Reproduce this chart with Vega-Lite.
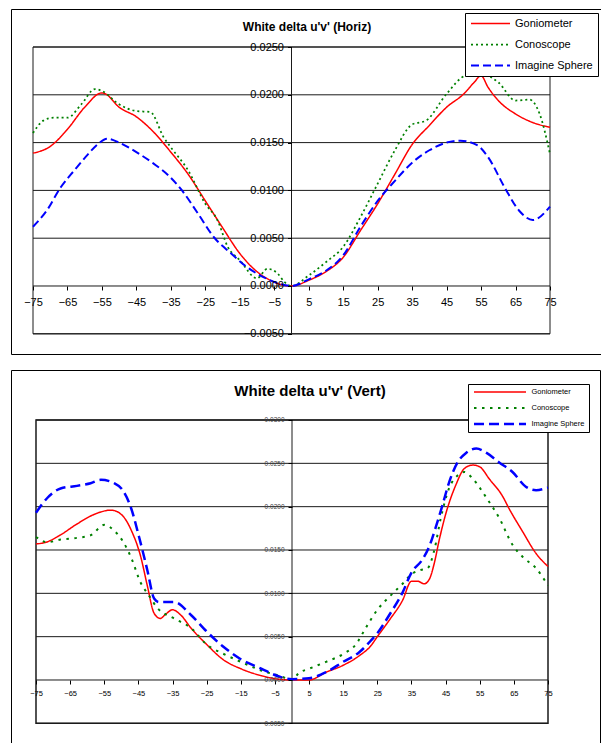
{
  "$schema": "https://vega.github.io/schema/vega-lite/v6.json",
  "background": "white",
  "padding": {"left": 10, "top": 8, "right": 0, "bottom": 0},
  "spacing": 14,
  "config": {
    "font": "Liberation Sans",
    "view": {"stroke": "#000", "strokeWidth": 1},
    "axis": {"labelOverlap": false, "labelBound": false, "labelFlush": false}
  },
  "datasets": {
    "horiz": [
      {"series": "Goniometer", "x": -75, "y": 0.0139}, {"series": "Goniometer", "x": -70, "y": 0.0146}, {"series": "Goniometer", "x": -65, "y": 0.0164}, {"series": "Goniometer", "x": -60, "y": 0.0187}, {"series": "Goniometer", "x": -55, "y": 0.0202}, {"series": "Goniometer", "x": -54, "y": 0.0201}, {"series": "Goniometer", "x": -50, "y": 0.0187}, {"series": "Goniometer", "x": -45, "y": 0.0177}, {"series": "Goniometer", "x": -40, "y": 0.0161}, {"series": "Goniometer", "x": -35, "y": 0.0140}, {"series": "Goniometer", "x": -30, "y": 0.0117}, {"series": "Goniometer", "x": -25, "y": 0.0089}, {"series": "Goniometer", "x": -20, "y": 0.0061}, {"series": "Goniometer", "x": -15, "y": 0.0034}, {"series": "Goniometer", "x": -10, "y": 0.0015}, {"series": "Goniometer", "x": -5, "y": 0.0004}, {"series": "Goniometer", "x": 0, "y": 0.0}, {"series": "Goniometer", "x": 5, "y": 0.0006}, {"series": "Goniometer", "x": 10, "y": 0.0015}, {"series": "Goniometer", "x": 15, "y": 0.0030}, {"series": "Goniometer", "x": 20, "y": 0.0058}, {"series": "Goniometer", "x": 25, "y": 0.0086}, {"series": "Goniometer", "x": 30, "y": 0.0117}, {"series": "Goniometer", "x": 35, "y": 0.0148}, {"series": "Goniometer", "x": 40, "y": 0.0168}, {"series": "Goniometer", "x": 45, "y": 0.0187}, {"series": "Goniometer", "x": 50, "y": 0.0201}, {"series": "Goniometer", "x": 53, "y": 0.0213}, {"series": "Goniometer", "x": 55, "y": 0.0220}, {"series": "Goniometer", "x": 57, "y": 0.0208}, {"series": "Goniometer", "x": 60, "y": 0.0194}, {"series": "Goniometer", "x": 65, "y": 0.0180}, {"series": "Goniometer", "x": 70, "y": 0.0171}, {"series": "Goniometer", "x": 75, "y": 0.0166},
      {"series": "Conoscope", "x": -75, "y": 0.0160}, {"series": "Conoscope", "x": -72, "y": 0.0173}, {"series": "Conoscope", "x": -69, "y": 0.0176}, {"series": "Conoscope", "x": -65, "y": 0.0176}, {"series": "Conoscope", "x": -61, "y": 0.0190}, {"series": "Conoscope", "x": -57, "y": 0.0206}, {"series": "Conoscope", "x": -55, "y": 0.0204}, {"series": "Conoscope", "x": -50, "y": 0.0190}, {"series": "Conoscope", "x": -45, "y": 0.0183}, {"series": "Conoscope", "x": -41, "y": 0.0182}, {"series": "Conoscope", "x": -37, "y": 0.0155}, {"series": "Conoscope", "x": -35, "y": 0.0145}, {"series": "Conoscope", "x": -30, "y": 0.0121}, {"series": "Conoscope", "x": -25, "y": 0.0086}, {"series": "Conoscope", "x": -21.5, "y": 0.0069}, {"series": "Conoscope", "x": -18.5, "y": 0.0041}, {"series": "Conoscope", "x": -15, "y": 0.0027}, {"series": "Conoscope", "x": -10, "y": 0.0008}, {"series": "Conoscope", "x": -7, "y": 0.0018}, {"series": "Conoscope", "x": -4, "y": 0.0013}, {"series": "Conoscope", "x": -2, "y": 0.0004}, {"series": "Conoscope", "x": 0, "y": 0.0}, {"series": "Conoscope", "x": 5, "y": 0.0011}, {"series": "Conoscope", "x": 10, "y": 0.0025}, {"series": "Conoscope", "x": 15, "y": 0.0041}, {"series": "Conoscope", "x": 20, "y": 0.0072}, {"series": "Conoscope", "x": 25, "y": 0.0107}, {"series": "Conoscope", "x": 30, "y": 0.0142}, {"series": "Conoscope", "x": 35, "y": 0.0169}, {"series": "Conoscope", "x": 39, "y": 0.0173}, {"series": "Conoscope", "x": 45, "y": 0.0201}, {"series": "Conoscope", "x": 50.5, "y": 0.0220}, {"series": "Conoscope", "x": 55, "y": 0.0222}, {"series": "Conoscope", "x": 60, "y": 0.0213}, {"series": "Conoscope", "x": 65, "y": 0.0194}, {"series": "Conoscope", "x": 69, "y": 0.0195}, {"series": "Conoscope", "x": 72, "y": 0.0180}, {"series": "Conoscope", "x": 75, "y": 0.0138},
      {"series": "Imagine Sphere", "x": -75, "y": 0.0062}, {"series": "Imagine Sphere", "x": -71, "y": 0.0079}, {"series": "Imagine Sphere", "x": -67, "y": 0.0103}, {"series": "Imagine Sphere", "x": -63, "y": 0.0121}, {"series": "Imagine Sphere", "x": -59, "y": 0.0138}, {"series": "Imagine Sphere", "x": -56, "y": 0.0149}, {"series": "Imagine Sphere", "x": -53.5, "y": 0.0154}, {"series": "Imagine Sphere", "x": -50, "y": 0.0150}, {"series": "Imagine Sphere", "x": -45, "y": 0.0140}, {"series": "Imagine Sphere", "x": -40, "y": 0.0128}, {"series": "Imagine Sphere", "x": -35.5, "y": 0.0115}, {"series": "Imagine Sphere", "x": -32, "y": 0.0101}, {"series": "Imagine Sphere", "x": -27, "y": 0.0075}, {"series": "Imagine Sphere", "x": -22.5, "y": 0.0051}, {"series": "Imagine Sphere", "x": -17.5, "y": 0.0034}, {"series": "Imagine Sphere", "x": -13, "y": 0.0020}, {"series": "Imagine Sphere", "x": -8, "y": 0.0009}, {"series": "Imagine Sphere", "x": -4, "y": 0.0003}, {"series": "Imagine Sphere", "x": 0, "y": 0.0}, {"series": "Imagine Sphere", "x": 5, "y": 0.0007}, {"series": "Imagine Sphere", "x": 10, "y": 0.0016}, {"series": "Imagine Sphere", "x": 15, "y": 0.0032}, {"series": "Imagine Sphere", "x": 20, "y": 0.0062}, {"series": "Imagine Sphere", "x": 25, "y": 0.0089}, {"series": "Imagine Sphere", "x": 30, "y": 0.0110}, {"series": "Imagine Sphere", "x": 35, "y": 0.0129}, {"series": "Imagine Sphere", "x": 40, "y": 0.0142}, {"series": "Imagine Sphere", "x": 45, "y": 0.0150}, {"series": "Imagine Sphere", "x": 49, "y": 0.0152}, {"series": "Imagine Sphere", "x": 54, "y": 0.0147}, {"series": "Imagine Sphere", "x": 57, "y": 0.0135}, {"series": "Imagine Sphere", "x": 62, "y": 0.0102}, {"series": "Imagine Sphere", "x": 66, "y": 0.0079}, {"series": "Imagine Sphere", "x": 70, "y": 0.0069}, {"series": "Imagine Sphere", "x": 75, "y": 0.0083}
    ],
    "vert": [
      {"series": "Goniometer", "x": -75, "y": 0.0157}, {"series": "Goniometer", "x": -72, "y": 0.0159}, {"series": "Goniometer", "x": -68, "y": 0.0167}, {"series": "Goniometer", "x": -63, "y": 0.0180}, {"series": "Goniometer", "x": -58, "y": 0.0191}, {"series": "Goniometer", "x": -53, "y": 0.0196}, {"series": "Goniometer", "x": -50, "y": 0.0191}, {"series": "Goniometer", "x": -47, "y": 0.0172}, {"series": "Goniometer", "x": -44.3, "y": 0.0142}, {"series": "Goniometer", "x": -42.4, "y": 0.0109}, {"series": "Goniometer", "x": -40.4, "y": 0.0077}, {"series": "Goniometer", "x": -38.6, "y": 0.0071}, {"series": "Goniometer", "x": -37, "y": 0.0076}, {"series": "Goniometer", "x": -35, "y": 0.0081}, {"series": "Goniometer", "x": -32.6, "y": 0.0075}, {"series": "Goniometer", "x": -29.6, "y": 0.0060}, {"series": "Goniometer", "x": -25, "y": 0.0041}, {"series": "Goniometer", "x": -20, "y": 0.0023}, {"series": "Goniometer", "x": -15, "y": 0.0013}, {"series": "Goniometer", "x": -9, "y": 0.0005}, {"series": "Goniometer", "x": -4, "y": 0.0001}, {"series": "Goniometer", "x": 0, "y": 0.0}, {"series": "Goniometer", "x": 5, "y": 0.0}, {"series": "Goniometer", "x": 10, "y": 0.0009}, {"series": "Goniometer", "x": 15, "y": 0.0017}, {"series": "Goniometer", "x": 19.7, "y": 0.0028}, {"series": "Goniometer", "x": 23, "y": 0.0039}, {"series": "Goniometer", "x": 25, "y": 0.0050}, {"series": "Goniometer", "x": 28.5, "y": 0.0069}, {"series": "Goniometer", "x": 32.4, "y": 0.0092}, {"series": "Goniometer", "x": 35, "y": 0.0114}, {"series": "Goniometer", "x": 36.8, "y": 0.0114}, {"series": "Goniometer", "x": 38.7, "y": 0.0111}, {"series": "Goniometer", "x": 40.2, "y": 0.0116}, {"series": "Goniometer", "x": 41.7, "y": 0.0135}, {"series": "Goniometer", "x": 43.1, "y": 0.0161}, {"series": "Goniometer", "x": 45, "y": 0.0191}, {"series": "Goniometer", "x": 48, "y": 0.0225}, {"series": "Goniometer", "x": 50.5, "y": 0.0244}, {"series": "Goniometer", "x": 53, "y": 0.0248}, {"series": "Goniometer", "x": 55, "y": 0.0246}, {"series": "Goniometer", "x": 57.8, "y": 0.0232}, {"series": "Goniometer", "x": 61.7, "y": 0.0212}, {"series": "Goniometer", "x": 63.7, "y": 0.0197}, {"series": "Goniometer", "x": 67.6, "y": 0.0171}, {"series": "Goniometer", "x": 71.5, "y": 0.0146}, {"series": "Goniometer", "x": 75, "y": 0.0131},
      {"series": "Conoscope", "x": -75, "y": 0.0165}, {"series": "Conoscope", "x": -71.7, "y": 0.0159}, {"series": "Conoscope", "x": -67.8, "y": 0.0162}, {"series": "Conoscope", "x": -63, "y": 0.0164}, {"series": "Conoscope", "x": -59, "y": 0.0167}, {"series": "Conoscope", "x": -55, "y": 0.0179}, {"series": "Conoscope", "x": -52, "y": 0.0172}, {"series": "Conoscope", "x": -49.7, "y": 0.0161}, {"series": "Conoscope", "x": -47.2, "y": 0.0142}, {"series": "Conoscope", "x": -44.3, "y": 0.0112}, {"series": "Conoscope", "x": -42, "y": 0.0098}, {"series": "Conoscope", "x": -39.4, "y": 0.0083}, {"series": "Conoscope", "x": -34.5, "y": 0.0071}, {"series": "Conoscope", "x": -29.6, "y": 0.0060}, {"series": "Conoscope", "x": -25, "y": 0.0041}, {"series": "Conoscope", "x": -20, "y": 0.0030}, {"series": "Conoscope", "x": -15, "y": 0.0021}, {"series": "Conoscope", "x": -9, "y": 0.0011}, {"series": "Conoscope", "x": -3, "y": 0.0004}, {"series": "Conoscope", "x": 0, "y": 0.0}, {"series": "Conoscope", "x": 2, "y": 0.0008}, {"series": "Conoscope", "x": 5, "y": 0.0013}, {"series": "Conoscope", "x": 10, "y": 0.0021}, {"series": "Conoscope", "x": 15, "y": 0.0030}, {"series": "Conoscope", "x": 18.7, "y": 0.0041}, {"series": "Conoscope", "x": 21.6, "y": 0.0060}, {"series": "Conoscope", "x": 25, "y": 0.0081}, {"series": "Conoscope", "x": 28.5, "y": 0.0096}, {"series": "Conoscope", "x": 32.4, "y": 0.0111}, {"series": "Conoscope", "x": 35, "y": 0.0122}, {"series": "Conoscope", "x": 37.7, "y": 0.0127}, {"series": "Conoscope", "x": 39.7, "y": 0.0129}, {"series": "Conoscope", "x": 41.7, "y": 0.0150}, {"series": "Conoscope", "x": 43.6, "y": 0.0187}, {"series": "Conoscope", "x": 46, "y": 0.0221}, {"series": "Conoscope", "x": 48.5, "y": 0.0236}, {"series": "Conoscope", "x": 50.5, "y": 0.0240}, {"series": "Conoscope", "x": 53, "y": 0.0232}, {"series": "Conoscope", "x": 57, "y": 0.0210}, {"series": "Conoscope", "x": 60.7, "y": 0.0187}, {"series": "Conoscope", "x": 64.6, "y": 0.0156}, {"series": "Conoscope", "x": 67.6, "y": 0.0142}, {"series": "Conoscope", "x": 71.5, "y": 0.0129}, {"series": "Conoscope", "x": 75, "y": 0.0109},
      {"series": "Imagine Sphere", "x": -75, "y": 0.0193}, {"series": "Imagine Sphere", "x": -71.7, "y": 0.0210}, {"series": "Imagine Sphere", "x": -67.8, "y": 0.0221}, {"series": "Imagine Sphere", "x": -63, "y": 0.0224}, {"series": "Imagine Sphere", "x": -59, "y": 0.0227}, {"series": "Imagine Sphere", "x": -56, "y": 0.0231}, {"series": "Imagine Sphere", "x": -52, "y": 0.0227}, {"series": "Imagine Sphere", "x": -50, "y": 0.0221}, {"series": "Imagine Sphere", "x": -47.2, "y": 0.0199}, {"series": "Imagine Sphere", "x": -44.8, "y": 0.0165}, {"series": "Imagine Sphere", "x": -42.4, "y": 0.0127}, {"series": "Imagine Sphere", "x": -40.4, "y": 0.0094}, {"series": "Imagine Sphere", "x": -39, "y": 0.0090}, {"series": "Imagine Sphere", "x": -34.5, "y": 0.0090}, {"series": "Imagine Sphere", "x": -29.6, "y": 0.0075}, {"series": "Imagine Sphere", "x": -25, "y": 0.0056}, {"series": "Imagine Sphere", "x": -20, "y": 0.0038}, {"series": "Imagine Sphere", "x": -15, "y": 0.0024}, {"series": "Imagine Sphere", "x": -9, "y": 0.0013}, {"series": "Imagine Sphere", "x": -3, "y": 0.0003}, {"series": "Imagine Sphere", "x": 0, "y": 0.0001}, {"series": "Imagine Sphere", "x": 5, "y": 0.0002}, {"series": "Imagine Sphere", "x": 10, "y": 0.0009}, {"series": "Imagine Sphere", "x": 15, "y": 0.0021}, {"series": "Imagine Sphere", "x": 19.7, "y": 0.0032}, {"series": "Imagine Sphere", "x": 23, "y": 0.0045}, {"series": "Imagine Sphere", "x": 25, "y": 0.0054}, {"series": "Imagine Sphere", "x": 28.5, "y": 0.0075}, {"series": "Imagine Sphere", "x": 32.4, "y": 0.0101}, {"series": "Imagine Sphere", "x": 35, "y": 0.0124}, {"series": "Imagine Sphere", "x": 38.2, "y": 0.0139}, {"series": "Imagine Sphere", "x": 40.2, "y": 0.0154}, {"series": "Imagine Sphere", "x": 42.1, "y": 0.0176}, {"series": "Imagine Sphere", "x": 44.1, "y": 0.0202}, {"series": "Imagine Sphere", "x": 46.1, "y": 0.0229}, {"series": "Imagine Sphere", "x": 48.5, "y": 0.0251}, {"series": "Imagine Sphere", "x": 51, "y": 0.0262}, {"series": "Imagine Sphere", "x": 54, "y": 0.0267}, {"series": "Imagine Sphere", "x": 57, "y": 0.0262}, {"series": "Imagine Sphere", "x": 60.7, "y": 0.0251}, {"series": "Imagine Sphere", "x": 64.6, "y": 0.0240}, {"series": "Imagine Sphere", "x": 68.5, "y": 0.0223}, {"series": "Imagine Sphere", "x": 71.5, "y": 0.0219}, {"series": "Imagine Sphere", "x": 75, "y": 0.0222}
    ]
  },
  "vconcat": [
    {
      "width": 591,
      "height": 345,
      "title": {"text": "White delta u'v' (Horiz)", "fontSize": 12, "fontWeight": "bold", "font": "Liberation Sans", "color": "#000", "anchor": "middle", "frame": "group", "offset": -33.5, "baseline": "alphabetic", "dx": 0.5},
      "layer": [
        {
          "data": {"values": [{"g": -0.005}, {"g": 0.0}, {"g": 0.005}, {"g": 0.01}, {"g": 0.015}, {"g": 0.02}, {"g": 0.025}]},
          "mark": {"type": "rule", "color": "#1a1a1a", "strokeWidth": 1},
          "encoding": {
            "y": {"field": "g", "type": "quantitative"},
            "x": {"datum": -75, "type": "quantitative"},
            "x2": {"datum": 75}
          }
        },
        {
          "data": {"values": [{}]},
          "mark": {"type": "rect", "fill": null, "filled": false, "stroke": "#1a1a1a", "strokeWidth": 1},
          "encoding": {
            "x": {"datum": -75, "type": "quantitative"},
            "x2": {"datum": 75},
            "y": {"datum": -0.005, "type": "quantitative"},
            "y2": {"datum": 0.025}
          }
        },
        {
          "data": {"values": [{}]},
          "mark": {"type": "rule", "color": "#1a1a1a", "strokeWidth": 1},
          "encoding": {
            "x": {"datum": 0, "type": "quantitative"},
            "y": {"datum": -0.005, "type": "quantitative"},
            "y2": {"datum": 0.025}
          }
        },
        {
          "data": {"name": "horiz"},
          "mark": {"type": "line", "interpolate": "monotone"},
          "encoding": {
            "x": {
              "field": "x", "type": "quantitative",
              "scale": {"domain": [-81.383, 90.087], "nice": false, "zero": false},
              "axis": {"orient": "bottom", "offset": -68, "values": [-75, -65, -55, -45, -35, -25, -15, -5, 5, 15, 25, 35, 45, 55, 65, 75], "tickCount": 40, "domain": false, "grid": false, "ticks": true, "tickSize": 4, "tickColor": "#000", "labelFontSize": 11, "labelFont": "Liberation Sans", "labelColor": "#000", "labelPadding": 6, "title": null, "labelOverlap": false, "labelBound": false, "labelFlush": false, "labelSeparation": 0, "zindex": 1}
            },
            "y": {
              "field": "y", "type": "quantitative",
              "scale": {"domain": [-0.007113, 0.028975], "nice": false, "zero": false},
              "axis": {"orient": "left", "offset": -280.5, "values": [-0.005, 0, 0.005, 0.01, 0.015, 0.02, 0.025], "tickCount": 20, "format": ".4f", "domain": false, "grid": false, "ticks": true, "tickSize": 4, "tickColor": "#000", "labelFontSize": 11, "labelFont": "Liberation Sans", "labelColor": "#000", "labelPadding": 4, "title": null, "labelOverlap": false, "labelBound": false, "labelFlush": false, "zindex": 1}
            },
            "color": {
              "field": "series", "type": "nominal",
              "scale": {"domain": ["Goniometer", "Conoscope", "Imagine Sphere"], "range": ["#ff0000", "#008000", "#0000ff"]},
              "legend": {"title": null, "orient": "none", "legendX": 454, "legendY": 4, "strokeColor": "#000", "fillColor": "#fff", "padding": 5, "labelFontSize": 11, "labelFont": "Liberation Sans", "labelColor": "#000", "symbolSize": 1521, "symbolType": "stroke", "labelOffset": 4, "rowPadding": 9, "clipHeight": 11, "labelLimit": 200}
            },
            "strokeDash": {
              "field": "series", "type": "nominal",
              "scale": {"domain": ["Goniometer", "Conoscope", "Imagine Sphere"], "range": [[1, 0], [2, 3], [8, 4]]},
              "legend": {"title": null, "orient": "none", "legendX": 454, "legendY": 4, "strokeColor": "#000", "fillColor": "#fff", "padding": 5, "labelFontSize": 11, "labelFont": "Liberation Sans", "labelColor": "#000", "symbolSize": 1521, "symbolType": "stroke", "labelOffset": 4, "rowPadding": 9, "clipHeight": 11, "labelLimit": 200}
            },
            "strokeWidth": {
              "field": "series", "type": "nominal",
              "scale": {"domain": ["Goniometer", "Conoscope", "Imagine Sphere"], "range": [1.5, 2, 2]},
              "legend": {"title": null, "orient": "none", "legendX": 454, "legendY": 4, "strokeColor": "#000", "fillColor": "#fff", "padding": 5, "labelFontSize": 11, "labelFont": "Liberation Sans", "labelColor": "#000", "symbolSize": 1521, "symbolType": "stroke", "labelOffset": 4, "rowPadding": 9, "clipHeight": 11, "labelLimit": 200}
            }
          }
        }
      ]
    },
    {
      "width": 589,
      "height": 375,
      "title": {"text": "White delta u'v' (Vert)", "fontSize": 15, "fontWeight": "bold", "font": "Liberation Sans", "color": "#000", "anchor": "middle", "frame": "group", "offset": -41, "baseline": "alphabetic", "dx": 4.5},
      "layer": [
        {
          "data": {"values": [{"g": -0.005}, {"g": 0.0}, {"g": 0.005}, {"g": 0.01}, {"g": 0.015}, {"g": 0.02}, {"g": 0.025}, {"g": 0.03}]},
          "mark": {"type": "rule", "color": "#1a1a1a", "strokeWidth": 1},
          "encoding": {
            "y": {"field": "g", "type": "quantitative"},
            "x": {"datum": -75, "type": "quantitative"},
            "x2": {"datum": 75}
          }
        },
        {
          "data": {"values": [{}]},
          "mark": {"type": "rect", "fill": null, "filled": false, "stroke": "#1a1a1a", "strokeWidth": 1.5},
          "encoding": {
            "x": {"datum": -75, "type": "quantitative"},
            "x2": {"datum": 75},
            "y": {"datum": -0.005, "type": "quantitative"},
            "y2": {"datum": 0.03}
          }
        },
        {
          "data": {"values": [{}]},
          "mark": {"type": "rule", "color": "#1a1a1a", "strokeWidth": 1},
          "encoding": {
            "x": {"datum": 0, "type": "quantitative"},
            "y": {"datum": -0.005, "type": "quantitative"},
            "y2": {"datum": 0.03}
          }
        },
        {
          "data": {"name": "vert"},
          "mark": {"type": "line", "interpolate": "monotone"},
          "encoding": {
            "x": {
              "field": "x", "type": "quantitative",
              "scale": {"domain": [-82.324, 90.234], "nice": false, "zero": false},
              "axis": {"orient": "bottom", "offset": -65, "values": [-75, -65, -55, -45, -35, -25, -15, -5, 5, 15, 25, 35, 45, 55, 65, 75], "tickCount": 40, "domain": false, "grid": false, "ticks": true, "tickSize": 4, "tickColor": "#000", "labelFontSize": 7.5, "labelFont": "Liberation Sans", "labelColor": "#000", "labelPadding": 5, "title": null, "labelOverlap": false, "labelBound": false, "labelFlush": false, "labelSeparation": 0, "zindex": 1}
            },
            "y": {
              "field": "y", "type": "quantitative",
              "scale": {"domain": [-0.0075, 0.035769], "nice": false, "zero": false},
              "axis": {"orient": "left", "offset": -281, "values": [-0.005, 0, 0.005, 0.01, 0.015, 0.02, 0.025, 0.03], "tickCount": 20, "format": ".4f", "domain": false, "grid": false, "ticks": true, "tickSize": 4, "tickColor": "#000", "labelFontSize": 6.5, "labelFont": "Liberation Sans", "labelColor": "#444", "labelPadding": 4, "title": null, "labelOverlap": false, "labelBound": false, "labelFlush": false, "zindex": 1}
            },
            "color": {
              "field": "series", "type": "nominal",
              "scale": {"domain": ["Goniometer", "Conoscope", "Imagine Sphere"], "range": ["#ff0000", "#008000", "#0000ff"]},
              "legend": {"title": null, "orient": "none", "legendX": 457, "legendY": 14, "strokeColor": "#000", "fillColor": "#fff", "padding": 4.5, "labelFontSize": 7.5, "labelFont": "Liberation Sans", "labelColor": "#000", "symbolSize": 2704, "symbolType": "stroke", "labelOffset": 4, "rowPadding": 8, "clipHeight": 7, "labelLimit": 200}
            },
            "strokeDash": {
              "field": "series", "type": "nominal",
              "scale": {"domain": ["Goniometer", "Conoscope", "Imagine Sphere"], "range": [[1, 0], [2.5, 5.5], [10, 5]]},
              "legend": {"title": null, "orient": "none", "legendX": 457, "legendY": 14, "strokeColor": "#000", "fillColor": "#fff", "padding": 4.5, "labelFontSize": 7.5, "labelFont": "Liberation Sans", "labelColor": "#000", "symbolSize": 2704, "symbolType": "stroke", "labelOffset": 4, "rowPadding": 8, "clipHeight": 7, "labelLimit": 200}
            },
            "strokeWidth": {
              "field": "series", "type": "nominal",
              "scale": {"domain": ["Goniometer", "Conoscope", "Imagine Sphere"], "range": [1.5, 2.5, 2.5]},
              "legend": {"title": null, "orient": "none", "legendX": 457, "legendY": 14, "strokeColor": "#000", "fillColor": "#fff", "padding": 4.5, "labelFontSize": 7.5, "labelFont": "Liberation Sans", "labelColor": "#000", "symbolSize": 2704, "symbolType": "stroke", "labelOffset": 4, "rowPadding": 8, "clipHeight": 7, "labelLimit": 200}
            }
          }
        }
      ]
    }
  ],
  "resolve": {"scale": {"color": "independent", "strokeDash": "independent", "strokeWidth": "independent", "x": "independent", "y": "independent"}, "legend": {"color": "independent", "strokeDash": "independent", "strokeWidth": "independent"}}
}
